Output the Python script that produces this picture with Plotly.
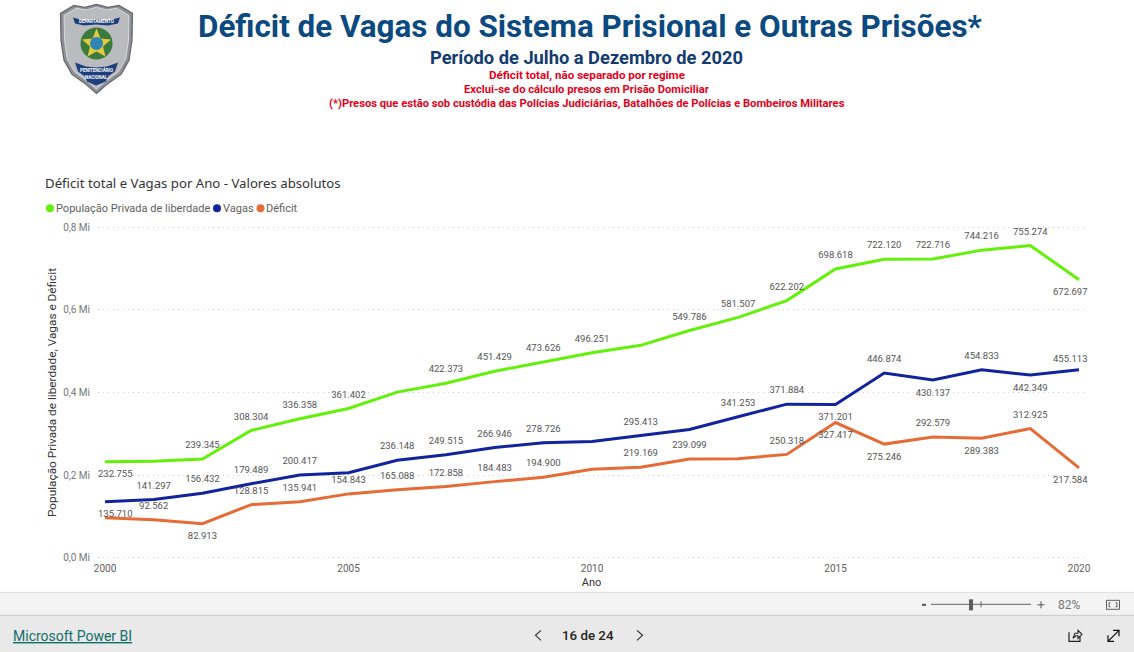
import plotly.graph_objects as go

WIDTH, HEIGHT = 1134, 652
Y_MAX, Y_PAD = 800000, 5000
PX_TOPO, PX_BASE = 226.7, 557.6
ESC = (PX_BASE - PX_TOPO) / Y_MAX
L, R = 98, 1085
T, B = PX_TOPO - Y_PAD * ESC, PX_BASE + Y_PAD * ESC

anos = list(range(2000, 2021))
populacao = [232755, 234000, 239345, 308304, 336358, 361402, 401000, 422373, 451429, 473626, 496251,
             514000, 549786, 581507, 622202, 698618, 722120, 722716, 744216, 755274, 672697]
vagas = [135710, 141297, 156432, 179489, 200417, 206000, 236148, 249515, 266946, 278726, 281500,
         295413, 310500, 341253, 371884, 371201, 446874, 430137, 454833, 442349, 455113]
deficit = [97000, 92562, 82913, 128815, 135941, 154843, 165088, 172858, 184483, 194900, 214500,
           219169, 239099, 240000, 250318, 327417, 275246, 292579, 289383, 312925, 217584]

sem_rotulo_pop = {2001, 2006, 2011}
sem_rotulo_vag = {2005, 2010, 2012}
sem_rotulo_def = {2000, 2010, 2013}
abaixo_pop = {2000, 2020}
abaixo_vag = {2000, 2015, 2017, 2019}
abaixo_def = {2002, 2015, 2016, 2018, 2020}

y_ticks = [0, 200000, 400000, 600000, 800000]
y_ticktext = ["0,0 Mi", "0,2 Mi", "0,4 Mi", "0,6 Mi", "0,8 Mi"]
x_ticks = [2000, 2005, 2010, 2015, 2020]

VERDE, AZUL, LARANJA = "#63f10c", "#12239e", "#e66c37"
FONT = "Roboto"
COR_ROTULO = "#555555"
TAM_ROTULO = 9.5


def px(x):
    return (x - L) / (R - L)


def py(y):
    return (B - y) / (B - T)


def fmt(v):
    return f"{v:,}".replace(",", ".")


shapes = []
ann = []


def linha(nome, valores, cor, sem, abaixo):
    # Os rótulos das extremidades ficam deslocados para dentro da área do gráfico.
    for a, v in zip(anos, valores):
        if a in (anos[0], anos[-1]) and a not in sem:
            ann.append(dict(xref="x", yref="y", x=a, y=v, text=fmt(v), showarrow=False,
                            xanchor="center", yanchor="middle", borderpad=0,
                            xshift=10 if a == anos[0] else -9,
                            yshift=-11.5 if a in abaixo else 11,
                            font=dict(family=FONT, size=TAM_ROTULO, color=COR_ROTULO)))
    return go.Scatter(
        x=anos, y=valores, name=nome, mode="lines+markers+text",
        line=dict(color=cor, width=3, shape="linear"),
        marker=dict(size=12, opacity=0, color=cor),
        text=["" if a in sem or a in (anos[0], anos[-1]) else fmt(v) for a, v in zip(anos, valores)],
        textposition=["bottom center" if a in abaixo else "top center" for a in anos],
        textfont=dict(family=FONT, size=TAM_ROTULO, color=COR_ROTULO),
        cliponaxis=False, showlegend=False,
        hovertemplate="%{x}: %{y}<extra>" + nome + "</extra>",
    )


fig = go.Figure()
fig.add_trace(linha("População Privada de liberdade", populacao, VERDE, sem_rotulo_pop, abaixo_pop))
fig.add_trace(linha("Vagas", vagas, AZUL, sem_rotulo_vag, abaixo_vag))
fig.add_trace(linha("Déficit", deficit, LARANJA, sem_rotulo_def, abaixo_def))


def text(x, y, s, size, color, anchor="center", bold=False, family=FONT, angle=0, weight=None):
    font = dict(family=family, size=size, color=color)
    if weight:
        font["weight"] = weight
    ann.append(dict(xref="paper", yref="paper", x=px(x), y=py(y), text=f"<b>{s}</b>" if bold else s,
                    showarrow=False, xanchor=anchor, yanchor="middle", textangle=angle, borderpad=0, borderwidth=0,
                    font=font))


def rect(x0, y0, x1, y1, fill, line=None, lw=0):
    shapes.append(dict(type="rect", xref="paper", yref="paper", x0=px(x0), x1=px(x1), y0=py(y0), y1=py(y1),
                       fillcolor=fill, line=dict(color=line or fill, width=lw), layer="below"))


def seg(x0, y0, x1, y1, color, w=1):
    shapes.append(dict(type="line", xref="paper", yref="paper", x0=px(x0), x1=px(x1), y0=py(y0), y1=py(y1),
                       line=dict(color=color, width=w)))


def path(points, fill=None, color=None, w=1, close=True):
    d = "M" + " L".join(f"{px(a):.5f},{py(b):.5f}" for a, b in points) + (" Z" if close else "")
    shapes.append(dict(type="path", xref="paper", yref="paper", path=d, fillcolor=fill or "rgba(0,0,0,0)",
                       line=dict(color=color or "rgba(0,0,0,0)", width=w)))


def circle(cx, cy, r, fill, line=None):
    shapes.append(dict(type="circle", xref="paper", yref="paper", x0=px(cx - r), x1=px(cx + r),
                       y0=py(cy + r), y1=py(cy - r), fillcolor=fill,
                       line=dict(color=line or fill, width=1 if line else 0)))


# Cabeçalho
text(590, 26, "Déficit de Vagas do Sistema Prisional e Outras Prisões*", 31.4, "#0b4a80", bold=True)
text(586.5, 57, "Período de Julho a Dezembro de 2020", 18.3, "#123b70", bold=True)
text(586.5, 75, "Déficit total, não separado por regime", 11.6, "#e60019", bold=True)
text(586, 89, "Exclui-se do cálculo presos em Prisão Domiciliar", 11.2, "#e60019", bold=True)
text(586.5, 103, "(*)Presos que estão sob custódia das Polícias Judiciárias, Batalhões de Polícias e Bombeiros Militares",
     11.2, "#e60019", bold=True)

# Brasão
escudo = [(96.5, 4), (85, 7), (74, 5), (60.5, 13), (61, 40), (64, 60), (72, 74), (86, 84), (96.5, 93),
          (107, 84), (121, 74), (129, 60), (132, 40), (132.5, 13), (119, 5), (108, 7)]
path(escudo, fill="#8f9196", color="#63656a", w=1.2)
path([(a * 0.9 + 9.65, b * 0.92 + 3.2) for a, b in escudo], fill="#b9bbbf", color="#d8d9dc", w=1)
path([(73, 17), (84, 20), (96, 18.5), (108, 20), (120, 17), (118, 23), (108, 25), (96, 24), (84, 25), (75, 23)],
     fill="#1d3f7c")
path([(75, 62), (86, 66), (96, 67), (107, 66), (118, 62), (115, 71), (108, 76), (106, 81), (96, 85), (87, 81), (85, 76), (78, 71)],
     fill="#1d3f7c")
circle(96.5, 43, 16, "#3b7a3f")
path([(96.5, 28), (100.5, 38), (111, 39), (103, 46), (105.5, 56), (96.5, 51), (87.5, 56), (90, 46), (82, 39), (92.5, 38)],
     fill="#e2cb3c")
circle(96.5, 43, 6.5, "#2f86b5")
text(96.5, 21, "DEPARTAMENTO", 4.5, "#ffffff", bold=True)
text(96.5, 70, "PENITENCIÁRIO", 4.5, "#ffffff", bold=True)
text(96.5, 77, "NACIONAL", 4.5, "#ffffff", bold=True)

# Título do visual e legenda
text(45, 183, "Déficit total e Vagas por Ano - Valores absolutos", 13.2, "#333333", anchor="left", family="Noto Sans")
for cx, tx, cor, nome in [(50, 56, VERDE, "População Privada de liberdade"), (217, 223, AZUL, "Vagas"),
                          (260.5, 266, LARANJA, "Déficit")]:
    circle(cx, 208, 4, cor)
    text(tx, 208, nome, 11, "#605e5c", anchor="left")

# Rodapé do Power BI
rect(0, 592, WIDTH, 615, "#f3f3f3")
rect(0, 615, WIDTH, HEIGHT, "#e9e9e9")
seg(0, 592, WIDTH, 592, "#dedede")
seg(0, 615, WIDTH, 615, "#c8c8c8")
text(13, 636, "<u>Microsoft Power BI</u>", 14, "#0f6f6a", anchor="left")
text(588, 635, "16 de 24", 13.3, "#252423", weight=500)
path([(541, 630), (535.5, 635), (541, 640)], color="#333333", w=1.2, close=False)
path([(637, 630), (642.5, 635), (637, 640)], color="#333333", w=1.2, close=False)
seg(922, 604.5, 926, 604.5, "#555555", 2)
seg(931, 604, 1031, 604, "#666666", 1)
seg(981, 601, 981, 607, "#666666", 1)
rect(969, 599, 973, 610, "#5c5c5c")
seg(1037.5, 604.5, 1044.5, 604.5, "#555555", 1)
seg(1041, 601, 1041, 608, "#555555", 1)
text(1069, 605, "82%", 12, "#777777")
rect(1106.5, 600, 1119.5, 609, "rgba(0,0,0,0)", "#605e5c", 1)
path([(1110.5, 602.5), (1109, 602.5), (1109, 606.5), (1110.5, 606.5)], color="#605e5c", w=1, close=False)
path([(1115.5, 602.5), (1117, 602.5), (1117, 606.5), (1115.5, 606.5)], color="#605e5c", w=1, close=False)
path([(1069, 632), (1069, 641), (1080, 641), (1080, 636)], color="#252423", w=1.2, close=False)
path([(1073, 638), (1075, 633), (1078, 633), (1078, 630), (1082, 634), (1078, 638), (1078, 635.5), (1076, 635.5)],
     color="#252423", w=1.1)
path([(1108, 641), (1119, 630)], color="#111111", w=1.2, close=False)
path([(1113, 630), (1119, 630), (1119, 636)], color="#111111", w=1.2, close=False)
path([(1108, 635), (1108, 641), (1114, 641)], color="#111111", w=1.2, close=False)

fig.update_layout(
    width=WIDTH, height=HEIGHT, autosize=False,
    margin=dict(l=L, r=WIDTH - R, t=T, b=HEIGHT - B, pad=0),
    paper_bgcolor="white", plot_bgcolor="white",
    showlegend=False, shapes=shapes, annotations=ann,
    font=dict(family=FONT, size=10, color="#605e5c"),
    xaxis=dict(range=[1999.856, 2020.123], tickvals=x_ticks, ticktext=[str(v) for v in x_ticks],
               showgrid=False, zeroline=False, showline=False, ticks="", ticklen=0, ticklabelstandoff=1,
               tickfont=dict(family=FONT, size=10, color="#605e5c"),
               title=dict(text="Ano", standoff=5, font=dict(family=FONT, size=11, color="#333333"))),
    yaxis=dict(range=[-Y_PAD, Y_MAX + Y_PAD], tickvals=y_ticks, ticktext=y_ticktext, showgrid=True,
               gridcolor="#cfcfcf", griddash="1px,4px", gridwidth=1, zeroline=False, showline=False,
               ticks="", ticklen=0, ticklabelstandoff=7, tickfont=dict(family=FONT, size=10, color="#777777"),
               title=dict(text="População Privada de liberdade, Vagas e Déficit", standoff=4,
                          font=dict(family=FONT, size=11.8, color="#333333"))),
)

fig.write_html("out.html", config=dict(displayModeBar=False),
               post_script="document.body.style.margin='0';document.body.style.overflow='hidden';")
